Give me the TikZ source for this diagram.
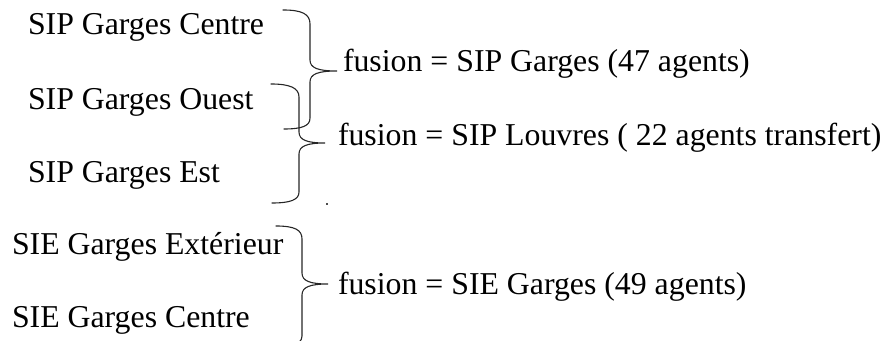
\documentclass[tikz,border=0pt]{standalone}
\usepackage{fontspec}
\setmainfont{Liberation Serif}
\begin{document}
\begin{tikzpicture}[x=0.5pt,y=-0.5pt,
  lbl/.style={anchor=base west,inner sep=0pt,outer sep=0pt,font=\fontsize{15.9}{18}\selectfont},
  brace/.style={draw=black!85,line width=0.55pt,line cap=round}]
\useasboundingbox (0,0) rectangle (887,341);
\clip (0,0) rectangle (887,341);
% left labels
\node[lbl] (a1) at (28,35) {SIP Garges Centre};
\node[lbl] (a2) at (28,110) {SIP Garges Ouest};
\node[lbl] (a3) at (28,183) {SIP Garges Est};
\node[lbl] (b1) at (12,255) {SIE Garges Extérieur};
\node[lbl] (b2) at (12,328) {SIE Garges Centre};
% right labels
\node[lbl] (r1) at (343,72) {fusion = SIP Garges (47 agents)};
\node[lbl] (r2) at (338,146) {fusion = SIP Louvres ( 22 agents transfert)};
\node[lbl] (r3) at (338,294) {fusion = SIE Garges (49 agents)};
% brace tips
\coordinate (t1) at (337,71);
\coordinate (t2) at (325,143);
\coordinate (t3) at (328,284);
% brace 1
\path[brace] (283,10) .. controls (302,10) and (310,14) .. (310,24) -- (310,60)
  .. controls (310,68) and (318,71) .. (t1)
  .. controls (318,71) and (310,74) .. (310,82) -- (310,118)
  .. controls (310,126) and (302,129) .. (284,129);
% brace 2
\path[brace] (271,84) .. controls (290,84) and (299,88) .. (299,97) -- (299,132)
  .. controls (299,140) and (307,143) .. (t2)
  .. controls (307,143) and (299,146) .. (299,154) -- (299,192)
  .. controls (299,200) and (290,203) .. (272,203);
% brace 3
\path[brace] (276,226) .. controls (295,226) and (302,230) .. (302,239) -- (302,273)
  .. controls (302,281) and (310,284) .. (t3)
  .. controls (310,284) and (302,287) .. (302,295) -- (302,336)
  .. controls (302,341) and (298,344) .. (292,346);
% stray dot
\fill[black!70] (326,203.5) rectangle (327.5,205);
\end{tikzpicture}
\end{document}
